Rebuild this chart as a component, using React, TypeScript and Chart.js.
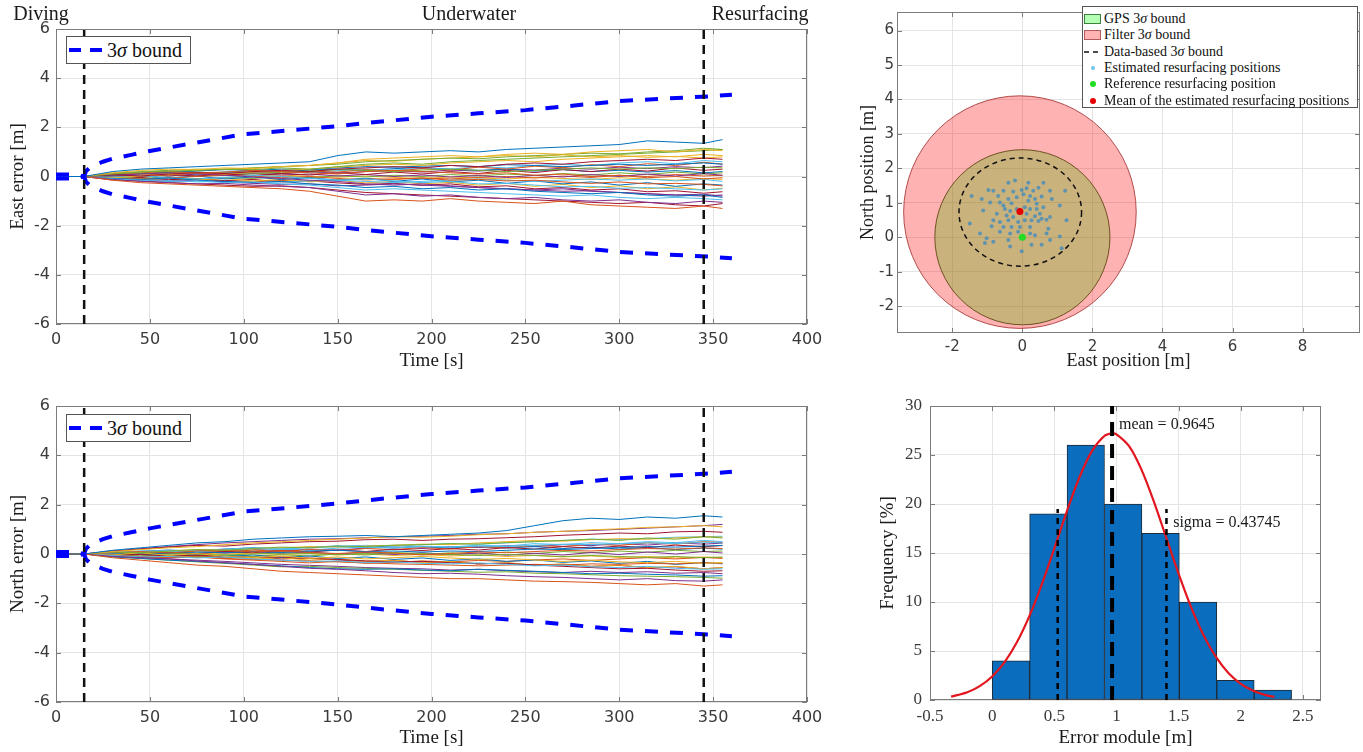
import React, { useEffect, useRef } from 'react';
import { Chart, registerables } from 'chart.js';
Chart.register(...registerables);

const SERIF = '"Liberation Serif", "Times New Roman", serif';
const SANS = '"DejaVu Sans", "Liberation Sans", sans-serif';
const TICK_COLOR = '#3a3a3a';
const GRID_COLOR = '#e4e4e4';
const BOX_COLOR = '#7c7c7c';
const LINE_COLORS = ['#0072BD', '#D95319', '#EDB120', '#7E2F8E', '#77AC30', '#4DBEEE', '#A2142F'];

// ---------- time-series panels ----------
const TIME_TICKS = [0, 50, 100, 150, 200, 250, 300, 350, 400];
const ERROR_TICKS = [-6, -4, -2, 0, 2, 4, 6];
const TIME_S = [0, 15, 30, 45, 60, 75, 90, 105, 120, 135, 150, 165, 180, 195, 210, 225, 240, 255, 270, 285, 300, 315, 330, 345, 355];
const BOUND_TIME = [0, 5, 10, 15, 16, 18, 20, 25, 30, 40, 50, 75, 100, 125, 150, 175, 200, 225, 250, 275, 300, 325, 350, 360];
const BOUND_3SIGMA = [0.08, 0.08, 0.08, 0, 0.22, 0.36, 0.45, 0.6, 0.72, 0.88, 1.04, 1.38, 1.72, 1.88, 2.05, 2.25, 2.43, 2.57, 2.7, 2.88, 3.07, 3.17, 3.27, 3.33];
const PHASE_CHANGE_TIMES = [15, 345];
const PHASE_NAMES = ['Diving', 'Underwater', 'Resurfacing'];
const PHASE_NAME_TIMES = [-8, 220, 375];

const EAST_ERR = [
  [0, 0, 0.2, 0.3, 0.35, 0.4, 0.45, 0.5, 0.55, 0.6, 0.85, 1.0, 0.95, 1.0, 1.05, 1.0, 1.1, 1.15, 1.2, 1.25, 1.3, 1.45, 1.4, 1.35, 1.5],
  [0, 0, -0.15, -0.25, -0.3, -0.35, -0.4, -0.45, -0.5, -0.6, -0.8, -1.0, -0.95, -1.0, -0.9, -1.0, -1.05, -1.1, -1.0, -1.15, -1.2, -1.25, -1.3, -1.2, -1.3],
  [0, 0, 0.15, 0.25, 0.3, 0.28, 0.35, 0.32, 0.4, 0.45, 0.55, 0.7, 0.75, 0.8, 0.85, 0.8, 0.9, 0.95, 0.9, 1.0, 1.05, 1.1, 1.0, 1.1, 1.05],
  [0, 0, -0.12, -0.2, -0.25, -0.3, -0.28, -0.35, -0.4, -0.45, -0.6, -0.75, -0.7, -0.8, -0.75, -0.85, -0.9, -0.85, -0.95, -1.0, -0.95, -1.05, -1.1, -1.0, -1.05],
  [0, 0, 0.1, 0.18, 0.22, 0.25, 0.3, 0.28, 0.35, 0.3, 0.4, 0.5, 0.55, 0.5, 0.6, 0.65, 0.7, 0.75, 0.8, 0.85, 0.9, 0.95, 1.0, 1.05, 1.1],
  [0, 0, -0.1, -0.15, -0.2, -0.18, -0.25, -0.22, -0.3, -0.35, -0.45, -0.55, -0.5, -0.55, -0.6, -0.65, -0.7, -0.75, -0.8, -0.75, -0.85, -0.9, -0.85, -0.9, -0.95],
  [0, 0, 0.08, 0.02, 0.1, 0.15, 0.12, 0.2, 0.25, 0.2, 0.3, 0.35, 0.4, 0.35, 0.45, 0.4, 0.5, 0.55, 0.5, 0.6, 0.65, 0.7, 0.65, 0.75, 0.7],
  [0, 0, -0.08, -0.12, -0.06, -0.15, -0.2, -0.25, -0.2, -0.3, -0.35, -0.45, -0.4, -0.5, -0.45, -0.55, -0.5, -0.6, -0.65, -0.7, -0.65, -0.75, -0.8, -0.75, -0.85],
  [0, 0, 0.1, 0.15, 0.2, 0.15, 0.18, 0.25, 0.2, 0.15, 0.1, 0.2, 0.25, 0.2, 0.15, 0.1, 0.15, 0.05, 0.1, 0, 0.05, -0.05, 0, -0.1, -0.05],
  [0, 0, -0.06, 0.02, 0.08, 0.15, 0.1, 0.18, 0.25, 0.3, 0.38, 0.45, 0.5, 0.45, 0.55, 0.6, 0.65, 0.6, 0.7, 0.75, 0.8, 0.85, 0.8, 0.9, 0.85],
  [0, 0, 0.05, 0.1, 0.15, 0.12, 0.05, -0.02, -0.08, -0.15, -0.2, -0.3, -0.35, -0.3, -0.38, -0.45, -0.5, -0.55, -0.5, -0.6, -0.65, -0.7, -0.75, -0.8, -0.75],
  [0, 0, 0.14, 0.2, 0.25, 0.3, 0.28, 0.35, 0.4, 0.45, 0.5, 0.6, 0.65, 0.7, 0.75, 0.72, 0.8, 0.85, 0.9, 0.95, 0.92, 1.0, 1.05, 1.15, 1.1],
  [0, 0, -0.04, 0.04, -0.06, -0.1, -0.04, 0.05, 0, -0.08, -0.15, -0.1, -0.18, -0.25, -0.2, -0.3, -0.28, -0.35, -0.42, -0.4, -0.48, -0.45, -0.5, -0.55, -0.5],
  [0, 0, -0.14, -0.18, -0.25, -0.3, -0.35, -0.4, -0.38, -0.45, -0.55, -0.65, -0.7, -0.75, -0.8, -0.85, -0.9, -0.95, -1.0, -1.05, -1.1, -1.05, -1.15, -1.2, -1.1],
  [0, 0, 0.06, 0.12, 0.18, 0.22, 0.28, 0.25, 0.3, 0.28, 0.35, 0.4, 0.38, 0.42, 0.45, 0.4, 0.48, 0.45, 0.4, 0.45, 0.5, 0.45, 0.5, 0.55, 0.5],
  [0, 0, -0.05, -0.1, -0.06, 0, 0.05, 0.02, -0.05, 0, -0.08, -0.14, -0.1, -0.06, -0.15, -0.12, -0.18, -0.15, -0.22, -0.28, -0.22, -0.3, -0.28, -0.32, -0.38],
  [0, 0, 0.1, 0.08, 0.15, 0.22, 0.3, 0.35, 0.4, 0.45, 0.55, 0.65, 0.62, 0.7, 0.75, 0.8, 0.85, 0.8, 0.88, 0.8, 0.85, 0.78, 0.82, 0.75, 0.8],
  [0, 0, -0.1, -0.15, -0.2, -0.15, -0.22, -0.28, -0.32, -0.3, -0.38, -0.35, -0.3, -0.35, -0.4, -0.45, -0.5, -0.55, -0.6, -0.58, -0.65, -0.7, -0.75, -0.72, -0.8],
  [0, 0, 0.04, 0.12, 0.1, 0.16, 0.14, 0.1, 0.18, 0.22, 0.28, 0.25, 0.2, 0.26, 0.3, 0.25, 0.2, 0.25, 0.3, 0.35, 0.3, 0.35, 0.32, 0.38, 0.35],
  [0, 0, -0.07, -0.12, -0.16, -0.22, -0.2, -0.25, -0.22, -0.18, -0.15, -0.2, -0.25, -0.2, -0.15, -0.1, -0.15, -0.2, -0.15, -0.1, -0.15, -0.1, -0.18, -0.12, -0.2],
  [0, 0, 0.05, -0.03, 0.08, 0.02, 0.1, 0.04, 0.12, 0.06, 0.15, 0.08, 0.18, 0.1, 0.2, 0.12, 0.25, 0.16, 0.28, 0.2, 0.3, 0.22, 0.35, 0.25, 0.3],
  [0, 0, -0.04, 0.03, -0.06, 0.02, -0.1, -0.02, -0.12, -0.05, -0.15, -0.08, -0.2, -0.1, -0.22, -0.15, -0.28, -0.18, -0.3, -0.22, -0.35, -0.25, -0.4, -0.3, -0.35],
  [0, 0, 0.07, 0.12, 0.06, 0.15, 0.1, 0.2, 0.14, 0.22, 0.18, 0.28, 0.22, 0.32, 0.26, 0.38, 0.3, 0.42, 0.36, 0.48, 0.4, 0.52, 0.45, 0.58, 0.5],
  [0, 0, -0.06, -0.12, -0.05, -0.14, -0.08, -0.18, -0.12, -0.22, -0.15, -0.26, -0.2, -0.3, -0.24, -0.35, -0.28, -0.4, -0.32, -0.45, -0.38, -0.5, -0.42, -0.55, -0.48],
  [0, 0, 0.02, 0.08, 0.02, 0.1, 0.05, 0.12, 0.06, 0.1, 0.02, 0.08, 0, 0.06, -0.02, 0.04, -0.04, 0.05, -0.02, 0.08, 0, 0.1, 0.02, 0.12, 0.05],
  [0, 0, -0.02, -0.08, -0.02, -0.1, -0.04, -0.08, 0, -0.05, 0.03, -0.02, 0.05, 0, 0.08, 0.02, 0.1, 0.04, 0.12, 0.06, 0.15, 0.08, 0.18, 0.1, 0.15],
  [0, 0, 0.09, 0.04, 0.13, 0.08, 0.17, 0.12, 0.2, 0.16, 0.24, 0.3, 0.26, 0.34, 0.3, 0.4, 0.35, 0.45, 0.5, 0.44, 0.55, 0.6, 0.52, 0.65, 0.6],
  [0, 0, -0.09, -0.04, -0.13, -0.08, -0.17, -0.12, -0.22, -0.18, -0.26, -0.32, -0.28, -0.36, -0.3, -0.42, -0.38, -0.5, -0.45, -0.55, -0.5, -0.62, -0.58, -0.68, -0.62],
  [0, 0, 0.04, 0.1, 0.16, 0.12, 0.18, 0.24, 0.2, 0.26, 0.3, 0.25, 0.32, 0.36, 0.3, 0.25, 0.3, 0.22, 0.28, 0.2, 0.25, 0.18, 0.24, 0.15, 0.2],
  [0, 0, -0.05, -0.1, -0.15, -0.1, -0.18, -0.22, -0.16, -0.2, -0.14, -0.08, -0.12, -0.06, -0.1, -0.04, 0, -0.06, 0.02, -0.04, 0.05, 0, 0.08, 0.02, 0.05],
  [0, 0, 0.03, 0.01, 0.05, 0.03, 0.07, 0.02, 0.06, 0.01, -0.03, 0.02, -0.04, -0.08, -0.02, -0.06, -0.1, -0.04, -0.08, -0.12, -0.05, -0.1, -0.15, -0.08, -0.12],
  [0, 0, 0.06, 0.02, 0.08, 0.14, 0.08, 0.16, 0.12, 0.18, 0.14, 0.2, 0.24, 0.18, 0.26, 0.22, 0.3, 0.26, 0.34, 0.3, 0.38, 0.32, 0.4, 0.36, 0.42],
];

const NORTH_ERR = [
  [0, 0, 0.15, 0.25, 0.35, 0.45, 0.5, 0.6, 0.65, 0.7, 0.72, 0.75, 0.7, 0.75, 0.8, 0.85, 0.95, 1.15, 1.35, 1.45, 1.4, 1.5, 1.45, 1.55, 1.5],
  [0, 0, -0.15, -0.25, -0.35, -0.45, -0.5, -0.6, -0.7, -0.75, -0.8, -0.85, -0.9, -0.95, -1.0, -1.0, -1.05, -1.1, -1.12, -1.15, -1.2, -1.25, -1.2, -1.3, -1.25],
  [0, 0, 0.1, 0.18, 0.25, 0.3, 0.38, 0.45, 0.5, 0.55, 0.6, 0.65, 0.7, 0.68, 0.72, 0.78, 0.82, 0.88, 0.92, 0.98, 1.02, 1.08, 1.1, 1.15, 1.1],
  [0, 0, -0.1, -0.15, -0.2, -0.28, -0.35, -0.42, -0.5, -0.58, -0.62, -0.68, -0.75, -0.8, -0.78, -0.82, -0.88, -0.92, -0.95, -1.0, -1.05, -1.0, -1.08, -1.1, -1.05],
  [0, 0, 0.08, 0.05, 0.12, 0.18, 0.15, 0.22, 0.28, 0.25, 0.32, 0.3, 0.36, 0.38, 0.42, 0.4, 0.46, 0.5, 0.55, 0.6, 0.55, 0.65, 0.6, 0.7, 0.65],
  [0, 0, -0.06, -0.12, -0.1, -0.16, -0.12, -0.2, -0.25, -0.3, -0.28, -0.35, -0.32, -0.38, -0.4, -0.36, -0.42, -0.48, -0.45, -0.52, -0.55, -0.5, -0.58, -0.62, -0.6],
  [0, 0, 0.12, 0.2, 0.28, 0.35, 0.32, 0.4, 0.45, 0.5, 0.52, 0.58, 0.6, 0.55, 0.6, 0.62, 0.66, 0.7, 0.76, 0.8, 0.85, 0.82, 0.9, 0.92, 0.88],
  [0, 0, -0.12, -0.18, -0.25, -0.3, -0.36, -0.42, -0.48, -0.55, -0.6, -0.62, -0.6, -0.65, -0.68, -0.62, -0.66, -0.7, -0.75, -0.8, -0.78, -0.82, -0.85, -0.9, -0.88],
  [0, 0, 0.05, 0.1, 0.04, 0.12, 0.16, 0.08, 0.14, 0.06, 0.02, 0.08, 0.04, -0.04, 0.02, 0.08, 0.05, 0.1, 0.15, 0.12, 0.18, 0.22, 0.2, 0.25, 0.22],
  [0, 0, -0.04, 0.05, -0.06, 0.02, -0.1, -0.15, -0.08, -0.18, -0.12, -0.2, -0.15, -0.1, -0.16, -0.22, -0.18, -0.24, -0.3, -0.25, -0.32, -0.35, -0.3, -0.38, -0.35],
  [0, 0, 0.12, 0.22, 0.3, 0.38, 0.45, 0.5, 0.55, 0.6, 0.62, 0.66, 0.7, 0.72, 0.75, 0.8, 0.82, 0.88, 0.92, 0.95, 1.0, 1.05, 1.1, 1.15, 1.2],
  [0, 0, -0.1, -0.18, -0.25, -0.32, -0.38, -0.45, -0.52, -0.5, -0.55, -0.58, -0.62, -0.66, -0.7, -0.74, -0.72, -0.78, -0.8, -0.84, -0.88, -0.9, -0.92, -0.95, -0.98],
  [0, 0, 0.04, 0.1, 0.14, 0.1, 0.16, 0.22, 0.2, 0.26, 0.3, 0.28, 0.25, 0.3, 0.28, 0.32, 0.3, 0.35, 0.4, 0.38, 0.42, 0.45, 0.42, 0.48, 0.45],
  [0, 0, -0.04, -0.02, -0.08, -0.05, -0.1, -0.15, -0.12, -0.18, -0.22, -0.28, -0.32, -0.3, -0.35, -0.4, -0.38, -0.45, -0.5, -0.55, -0.6, -0.58, -0.65, -0.7, -0.68],
  [0, 0, 0.02, -0.02, 0.04, 0.08, 0.05, 0.1, 0.06, 0.12, 0.15, 0.1, 0.12, 0.08, 0.12, 0.1, 0.15, 0.2, 0.18, 0.22, 0.26, 0.3, 0.28, 0.32, 0.35],
  [0, 0, -0.06, -0.1, -0.15, -0.12, -0.18, -0.22, -0.25, -0.28, -0.32, -0.35, -0.4, -0.42, -0.45, -0.48, -0.45, -0.42, -0.45, -0.4, -0.42, -0.38, -0.4, -0.35, -0.38],
  [0, 0, 0.06, 0.1, 0.12, 0.18, 0.15, 0.2, 0.25, 0.3, 0.28, 0.32, 0.35, 0.4, 0.38, 0.45, 0.5, 0.55, 0.52, 0.58, 0.62, 0.6, 0.65, 0.7, 0.68],
  [0, 0, -0.1, -0.14, -0.2, -0.25, -0.3, -0.36, -0.42, -0.46, -0.5, -0.55, -0.58, -0.6, -0.65, -0.62, -0.68, -0.72, -0.75, -0.7, -0.75, -0.72, -0.78, -0.75, -0.8],
  [0, 0, 0.02, 0.05, 0.02, 0, -0.04, 0, 0.04, 0.02, -0.02, 0.02, 0.06, 0.02, -0.02, -0.06, -0.02, -0.06, -0.1, -0.06, -0.1, -0.14, -0.1, -0.15, -0.12],
  [0, 0, 0.08, 0.12, 0.1, 0.15, 0.2, 0.25, 0.22, 0.28, 0.32, 0.35, 0.32, 0.38, 0.42, 0.4, 0.45, 0.5, 0.55, 0.6, 0.58, 0.62, 0.68, 0.7, 0.72],
  [0, 0, 0.04, -0.02, 0.07, 0.01, 0.1, 0.05, 0.14, 0.08, 0.16, 0.1, 0.2, 0.14, 0.22, 0.16, 0.26, 0.2, 0.3, 0.24, 0.32, 0.26, 0.36, 0.3, 0.34],
  [0, 0, -0.05, 0.02, -0.07, 0, -0.1, -0.04, -0.14, -0.08, -0.18, -0.12, -0.22, -0.16, -0.26, -0.2, -0.3, -0.24, -0.34, -0.28, -0.38, -0.3, -0.42, -0.35, -0.4],
  [0, 0, 0.06, 0.1, 0.05, 0.12, 0.08, 0.16, 0.1, 0.18, 0.14, 0.22, 0.18, 0.26, 0.2, 0.3, 0.25, 0.35, 0.3, 0.4, 0.35, 0.45, 0.4, 0.5, 0.46],
  [0, 0, -0.07, -0.12, -0.06, -0.15, -0.1, -0.2, -0.15, -0.25, -0.2, -0.3, -0.25, -0.35, -0.3, -0.4, -0.35, -0.45, -0.4, -0.5, -0.45, -0.55, -0.5, -0.6, -0.55],
  [0, 0, 0.03, 0.08, 0.03, 0.1, 0.04, 0.1, 0.03, 0.08, 0, 0.06, -0.02, 0.05, -0.03, 0.04, -0.05, 0.03, -0.04, 0.06, -0.02, 0.08, 0, 0.1, 0.04],
  [0, 0, -0.03, -0.08, -0.03, -0.1, -0.05, -0.1, -0.03, -0.08, 0, -0.04, 0.03, -0.02, 0.05, 0, 0.08, 0.02, 0.1, 0.05, 0.12, 0.07, 0.15, 0.1, 0.12],
  [0, 0, 0.08, 0.03, 0.12, 0.07, 0.16, 0.11, 0.2, 0.15, 0.24, 0.28, 0.24, 0.32, 0.28, 0.36, 0.32, 0.42, 0.38, 0.46, 0.42, 0.5, 0.46, 0.55, 0.5],
  [0, 0, -0.08, -0.03, -0.12, -0.07, -0.16, -0.11, -0.2, -0.16, -0.24, -0.3, -0.26, -0.34, -0.3, -0.4, -0.36, -0.46, -0.42, -0.5, -0.46, -0.56, -0.52, -0.6, -0.55],
  [0, 0, 0.05, 0.11, 0.16, 0.12, 0.2, 0.25, 0.2, 0.28, 0.32, 0.26, 0.34, 0.3, 0.25, 0.3, 0.24, 0.3, 0.22, 0.28, 0.2, 0.26, 0.18, 0.24, 0.2],
  [0, 0, -0.06, -0.11, -0.16, -0.12, -0.2, -0.25, -0.3, -0.36, -0.3, -0.38, -0.34, -0.28, -0.32, -0.26, -0.3, -0.24, -0.2, -0.26, -0.2, -0.15, -0.2, -0.14, -0.18],
  [0, 0, 0.02, 0.05, 0.01, 0.04, 0, 0.03, -0.02, 0.02, -0.04, 0, -0.06, -0.02, -0.08, -0.04, -0.1, -0.06, -0.12, -0.08, -0.14, -0.1, -0.16, -0.12, -0.15],
  [0, 0, 0.07, 0.03, 0.1, 0.15, 0.1, 0.18, 0.14, 0.2, 0.16, 0.24, 0.28, 0.22, 0.3, 0.26, 0.34, 0.3, 0.38, 0.34, 0.42, 0.36, 0.45, 0.4, 0.44],
];

// ---------- resurfacing positions panel ----------
const EAST_POS_TICKS = [-2, 0, 2, 4, 6, 8];
const NORTH_POS_TICKS = [-2, -1, 0, 1, 2, 3, 4, 5, 6];
const GPS_CENTER = [0, 0];
const GPS_RADIUS = 2.5;
const FILTER_CENTER = [-0.07, 0.73];
const FILTER_RADIUS = 3.32;
const DATA_ELLIPSE_CENTER = [-0.06, 0.73];
const DATA_ELLIPSE_RADII = [1.75, 1.57];
const REF_POSITION = [0, 0];
const MEAN_POSITION = [-0.07, 0.75];
const EST_EAST = [-0.21, -0.4, 0.17, 0.6, -0.83, -0.97, -0.54, -0.26, -0.02, 0.12, 0.31, 0.46, 0.79, 1.22, -1.45, -1.16, -0.69, -0.4, -0.16, 0.03, 0.22, 0.36, 0.55, 0.84, -0.92, -0.64, -0.31, 0.17, 0.41, 1.07, -1.12, -0.5, -0.35, 0.22, 0.41, 0.6, -0.45, -0.26, 0.12, 0.36, 0.55, 0.79, -0.83, -0.64, -0.4, -0.12, 0.07, 0.26, 0.46, 0.69, -0.88, -0.54, -0.31, -0.07, 0.22, 0.74, -1.21, -0.64, -0.35, 0.22, -0.12, 0.36, -1.02, -0.4, 0.03, 0.79, 0.26, -0.83, 1.07, -0.35, -0.02, 0.55, -1.07, 1.12, -0.16, 0.07, -0.73, -0.54, 0.5, 0.69, -1.5, 1.26];
const EST_NORTH = [1.65, 1.58, 1.58, 1.58, 1.35, 1.37, 1.35, 1.33, 1.37, 1.42, 1.35, 1.44, 1.35, 1.35, 1.2, 1.11, 1.2, 1.11, 1.16, 1.25, 1.2, 1.11, 1.18, 1.11, 1.01, 1.01, 0.99, 1.06, 0.97, 0.92, 0.78, 0.82, 0.76, 0.82, 0.82, 0.87, 0.63, 0.59, 0.68, 0.61, 0.54, 0.59, 0.49, 0.44, 0.49, 0.44, 0.49, 0.49, 0.47, 0.51, 0.32, 0.3, 0.3, 0.3, 0.3, 0.25, 0.11, 0.16, 0.11, 0.11, 0.16, 0.06, -0.03, -0.08, -0.03, -0.08, -0.22, -0.13, 0.02, -0.27, -0.41, -0.22, -0.17, -0.32, 0.82, 0.87, 0.68, 0.92, 0.68, 0.11, 0.4, 0.49];

// ---------- histogram panel ----------
const ERROR_BIN_CENTERS = [0.151, 0.452, 0.753, 1.054, 1.355, 1.656, 1.957, 2.258];
const ERROR_FREQUENCY = [4, 19, 26, 20, 17, 10, 2, 1];
const FIT_X = [-0.33, -0.2, -0.1, 0, 0.1, 0.2, 0.3, 0.4, 0.5, 0.6, 0.7, 0.8, 0.9, 0.9645, 1.0, 1.1, 1.2, 1.3, 1.4, 1.5, 1.6, 1.7, 1.8, 1.9, 2.0, 2.1, 2.2, 2.27];
const FIT_Y = [0.34, 0.79, 1.41, 2.39, 3.86, 5.91, 8.58, 11.83, 15.48, 19.22, 22.66, 25.34, 26.91, 27.2, 27.11, 25.92, 23.53, 20.27, 16.57, 12.86, 9.47, 6.62, 4.39, 2.76, 1.65, 0.94, 0.5, 0.32];
const ERROR_MEAN = 0.9645;
const ERROR_SIGMA = 0.43745;
const SIGMA_LINE_TOP = 19.5;
const HIST_X_TICKS = [-0.5, 0, 0.5, 1, 1.5, 2, 2.5];
const FREQ_TICKS = [0, 5, 10, 15, 20, 25, 30];
const HIST_TEXT_POS = { mean: [1.02, 28.06], sigma: [1.456, 18.06] };

// ---------- helpers ----------
const setTicks = (vals: number[]) => (s: any) => { s.ticks = vals.map((v) => ({ value: v })); };

const framePlugin = {
  id: 'frame',
  beforeDatasetsDraw(chart: any) {
    const { ctx, chartArea: a, scales } = chart;
    ctx.save();
    ctx.strokeStyle = BOX_COLOR;
    ctx.lineWidth = 1;
    ctx.strokeRect(Math.round(a.left) + 0.5, Math.round(a.top) + 0.5, Math.round(a.right - a.left) - 1, Math.round(a.bottom - a.top) - 1);
    const L = 5;
    ctx.beginPath();
    for (const t of scales.x.ticks) {
      const p = Math.round(scales.x.getPixelForValue(t.value)) + 0.5;
      ctx.moveTo(p, a.bottom); ctx.lineTo(p, a.bottom - L);
      ctx.moveTo(p, a.top); ctx.lineTo(p, a.top + L);
    }
    for (const t of scales.y.ticks) {
      const p = Math.round(scales.y.getPixelForValue(t.value)) + 0.5;
      ctx.moveTo(a.left, p); ctx.lineTo(a.left + L, p);
      ctx.moveTo(a.right, p); ctx.lineTo(a.right - L, p);
    }
    ctx.stroke();
    ctx.restore();
  },
};

const phasePlugin = {
  id: 'phases',
  afterDraw(chart: any) {
    const { ctx, scales } = chart;
    ctx.save();
    ctx.font = `20px ${SERIF}`;
    ctx.fillStyle = '#1a1a1a';
    ctx.textAlign = 'center';
    ctx.textBaseline = 'alphabetic';
    PHASE_NAMES.forEach((n, i) => ctx.fillText(n, scales.x.getPixelForValue(PHASE_NAME_TIMES[i]), 20));
    ctx.restore();
  },
};

const axisCommon = (tickFont: any, padding: number) => ({
  type: 'linear' as const,
  grid: { color: GRID_COLOR, drawTicks: false, lineWidth: 1 },
  border: { display: false },
  ticks: { padding, color: TICK_COLOR, font: tickFont, autoSkip: false, maxRotation: 0, callback: (v: any) => String(v) },
});

function timeConfig(series: number[][], yTitle: string, padTop: number, xAxisH: number, xTitlePadBottom: number, phases: boolean) {
  const datasets: any[] = [];
  PHASE_CHANGE_TIMES.forEach((t) =>
    datasets.push({
      data: [{ x: t, y: ERROR_TICKS[0] }, { x: t, y: ERROR_TICKS[ERROR_TICKS.length - 1] }],
      borderColor: '#111', borderWidth: 2.5, borderDash: [9, 6], pointRadius: 0, order: 0,
    })
  );
  [1, -1].forEach((sgn) =>
    datasets.push({
      data: BOUND_TIME.map((t, i) => ({ x: t, y: sgn * BOUND_3SIGMA[i] })),
      borderColor: '#0000ff', borderWidth: 4, borderDash: [13, 12], pointRadius: 0, order: 1,
    })
  );
  series.forEach((s, k) =>
    datasets.push({
      data: TIME_S.slice(0, s.length).map((t, i) => ({ x: t, y: s[i] })),
      borderColor: LINE_COLORS[k % LINE_COLORS.length], borderWidth: 1, pointRadius: 0, order: 2,
    })
  );
  return {
    type: 'line' as const,
    data: { datasets },
    plugins: phases ? [framePlugin, phasePlugin] : [framePlugin],
    options: {
      animation: false as const,
      responsive: false,
      events: [],
      layout: { padding: { left: 0, top: padTop, right: 23, bottom: 0 }, autoPadding: false },
      plugins: { legend: { display: false }, tooltip: { enabled: false } },
      scales: {
        x: {
          ...axisCommon({ family: SANS, size: 16 }, 6),
          min: TIME_TICKS[0], max: TIME_TICKS[TIME_TICKS.length - 1],
          afterBuildTicks: setTicks(TIME_TICKS),
          afterFit: (s: any) => { s.height = xAxisH; },
          title: { display: true, text: 'Time [s]', color: '#1a1a1a', font: { family: SERIF, size: 19 }, padding: { top: 0, bottom: xTitlePadBottom } },
        },
        y: {
          ...axisCommon({ family: SANS, size: 16 }, 6),
          min: ERROR_TICKS[0], max: ERROR_TICKS[ERROR_TICKS.length - 1],
          afterBuildTicks: setTicks(ERROR_TICKS),
          afterFit: (s: any) => { s.width = 56; },
          title: { display: true, text: yTitle, color: '#1a1a1a', font: { family: SERIF, size: 19 }, padding: { top: 6.6, bottom: 0 } },
        },
      },
    },
  };
}

const ellipsePlugin = {
  id: 'dataEllipse',
  afterDatasetDraw(chart: any, args: any) {
    if (args.meta.label !== 'Filter 3σ bound') return;
    const { ctx, scales: { x, y } } = chart;
    const cx = x.getPixelForValue(DATA_ELLIPSE_CENTER[0]);
    const cy = y.getPixelForValue(DATA_ELLIPSE_CENTER[1]);
    const rx = Math.abs(x.getPixelForValue(DATA_ELLIPSE_CENTER[0] + DATA_ELLIPSE_RADII[0]) - cx);
    const ry = Math.abs(y.getPixelForValue(DATA_ELLIPSE_CENTER[1] + DATA_ELLIPSE_RADII[1]) - cy);
    ctx.save();
    ctx.strokeStyle = '#111';
    ctx.lineWidth = 1.5;
    ctx.setLineDash([5, 4]);
    ctx.beginPath();
    ctx.ellipse(cx, cy, rx, ry, 0, 0, Math.PI * 2);
    ctx.stroke();
    ctx.restore();
  },
};

function positionConfig() {
  return {
    type: 'scatter' as const,
    data: {
      datasets: [
        { type: 'scatter', label: 'Mean', data: [{ x: MEAN_POSITION[0], y: MEAN_POSITION[1] }], pointRadius: 3.5, backgroundColor: '#e60000', borderWidth: 0, order: 0 },
        { type: 'scatter', label: 'Reference', data: [{ x: REF_POSITION[0], y: REF_POSITION[1] }], pointRadius: 3.5, backgroundColor: '#22dd22', borderWidth: 0, order: 1 },
        { type: 'scatter', label: 'Estimated', data: EST_EAST.map((e, i) => ({ x: e, y: EST_NORTH[i] })), pointRadius: 2, backgroundColor: 'rgba(70,140,185,0.8)', borderWidth: 0, order: 2 },
        { type: 'bubble', label: 'Filter 3σ bound', circleRadius: FILTER_RADIUS, data: [{ x: FILTER_CENTER[0], y: FILTER_CENTER[1], r: 1 }], hoverRadius: 0, backgroundColor: 'rgba(255,0,0,0.3)', borderColor: 'rgba(170,60,60,0.9)', borderWidth: 1, order: 3 },
        { type: 'bubble', label: 'GPS 3σ bound', circleRadius: GPS_RADIUS, data: [{ x: GPS_CENTER[0], y: GPS_CENTER[1], r: 1 }], hoverRadius: 0, backgroundColor: 'rgba(0,255,0,0.3)', borderColor: 'rgba(30,100,30,0.9)', borderWidth: 1, order: 4 },
      ],
    },
    plugins: [framePlugin, ellipsePlugin],
    options: {
      animation: false as const,
      responsive: false,
      events: [],
      layout: { padding: { left: 0, top: 6, right: 3, bottom: 0 }, autoPadding: false },
      plugins: { legend: { display: false }, tooltip: { enabled: false } },
      scales: {
        x: {
          ...axisCommon({ family: SANS, size: 15 }, 5),
          min: -3.58, max: 9.64,
          afterBuildTicks: setTicks(EAST_POS_TICKS),
          afterFit: (s: any) => { s.height = 47; },
          title: { display: true, text: 'East position [m]', color: '#1a1a1a', font: { family: SERIF, size: 18 }, padding: { top: 0, bottom: 7.5 } },
        },
        y: {
          ...axisCommon({ family: SANS, size: 15 }, 3),
          min: -2.78, max: 6.54,
          afterBuildTicks: setTicks(NORTH_POS_TICKS),
          afterFit: (s: any) => { s.width = 47; },
          title: { display: true, text: 'North position [m]', color: '#1a1a1a', font: { family: SERIF, size: 18 }, padding: { top: 7.2, bottom: 0 } },
        },
      },
    },
  };
}

// converts each circle's radius (in metres) to the bubble radius (pixels) through the x scale
function sizeCircles(chart: any) {
  const sx = chart.scales.x;
  chart.data.datasets.forEach((ds: any) => {
    if (ds.circleRadius === undefined) return;
    ds.data = ds.data.map((p: any) => ({ ...p, r: Math.abs(sx.getPixelForValue(p.x + ds.circleRadius) - sx.getPixelForValue(p.x)) }));
  });
  chart.update();
}

const histTextPlugin = {
  id: 'histText',
  afterDatasetsDraw(chart: any) {
    const { ctx, scales: { x, y } } = chart;
    ctx.save();
    ctx.font = `16px ${SERIF}`;
    ctx.fillStyle = '#1a1a1a';
    ctx.textAlign = 'left';
    ctx.textBaseline = 'middle';
    ctx.fillText(`mean = ${ERROR_MEAN}`, x.getPixelForValue(HIST_TEXT_POS.mean[0]), y.getPixelForValue(HIST_TEXT_POS.mean[1]));
    ctx.fillText(`sigma = ${ERROR_SIGMA}`, x.getPixelForValue(HIST_TEXT_POS.sigma[0]), y.getPixelForValue(HIST_TEXT_POS.sigma[1]));
    ctx.restore();
  },
};

function histConfig() {
  const top = FREQ_TICKS[FREQ_TICKS.length - 1];
  return {
    type: 'bar' as const,
    data: {
      datasets: [
        { type: 'line', data: [{ x: ERROR_MEAN, y: 0 }, { x: ERROR_MEAN, y: top }], borderColor: '#000', borderWidth: 4, borderDash: [14, 8], pointRadius: 0, order: 0 },
        { type: 'line', data: [{ x: ERROR_MEAN - ERROR_SIGMA, y: 0 }, { x: ERROR_MEAN - ERROR_SIGMA, y: SIGMA_LINE_TOP }], borderColor: '#000', borderWidth: 2.5, borderDash: [6, 5], pointRadius: 0, order: 0 },
        { type: 'line', data: [{ x: ERROR_MEAN + ERROR_SIGMA, y: 0 }, { x: ERROR_MEAN + ERROR_SIGMA, y: SIGMA_LINE_TOP }], borderColor: '#000', borderWidth: 2.5, borderDash: [6, 5], pointRadius: 0, order: 0 },
        { type: 'line', data: FIT_X.map((v, i) => ({ x: v, y: FIT_Y[i] })), borderColor: '#e3161f', borderWidth: 2.2, pointRadius: 0, tension: 0.3, order: 1 },
        { type: 'bar', data: ERROR_BIN_CENTERS.map((c, i) => ({ x: c, y: ERROR_FREQUENCY[i] })), backgroundColor: '#0a6dbd', borderColor: '#1e2a36', borderWidth: 1, borderSkipped: false, barPercentage: 1, categoryPercentage: 1, order: 2 },
      ],
    },
    plugins: [framePlugin, histTextPlugin],
    options: {
      animation: false as const,
      responsive: false,
      events: [],
      layout: { padding: { left: 0, top: 26, right: 42, bottom: 0 }, autoPadding: false },
      plugins: { legend: { display: false }, tooltip: { enabled: false } },
      scales: {
        x: {
          ...axisCommon({ family: SERIF, size: 17 }, 6),
          offset: false,
          grid: { color: GRID_COLOR, drawTicks: false, offset: false },
          min: -0.5, max: 2.645,
          afterBuildTicks: setTicks(HIST_X_TICKS),
          afterFit: (s: any) => { s.height = 52; },
          title: { display: true, text: 'Error module [m]', color: '#1a1a1a', font: { family: SERIF, size: 19 }, padding: { top: 0, bottom: 2.6 } },
        },
        y: {
          ...axisCommon({ family: SERIF, size: 17 }, 8),
          min: FREQ_TICKS[0], max: top,
          afterBuildTicks: setTicks(FREQ_TICKS),
          afterFit: (s: any) => { s.width = 80; },
          title: { display: true, text: 'Frequency [%]', color: '#1a1a1a', font: { family: SERIF, size: 19 }, padding: { top: 26.6, bottom: 0 } },
        },
      },
    },
  };
}

const BoundLegend = ({ top }: { top: number }) => (
  <div style={{ position: 'absolute', left: 66, top, width: 125, height: 28, border: '1px solid #555', background: '#fff', boxSizing: 'border-box', display: 'flex', alignItems: 'center', fontFamily: SERIF, fontSize: 20, color: '#111', whiteSpace: 'nowrap' }}>
    <svg width={35} height={8} style={{ marginLeft: 2, marginRight: 3 }}>
      <line x1={0} y1={4} x2={35} y2={4} stroke="#0000ff" strokeWidth={4} strokeDasharray="12 9" />
    </svg>
    <span>3<i>σ</i> bound</span>
  </div>
);

const PosLegendRow = ({ i, icon, children }: { i: number; icon: React.ReactNode; children: React.ReactNode }) => (
  <div style={{ position: 'absolute', left: 0, top: 4 + i * 16.3, height: 16, width: 273, display: 'flex', alignItems: 'center' }}>
    <div style={{ width: 19, height: 16, position: 'relative', display: 'flex', alignItems: 'center', justifyContent: 'center' }}>{icon}</div>
    <span style={{ marginLeft: 2 }}>{children}</span>
  </div>
);

const dot = (color: string, size: number) => <div style={{ width: size, height: size, borderRadius: '50%', background: color }} />;

const PosLegend = () => (
  <div style={{ position: 'absolute', left: 1082, top: 6, width: 276, height: 102, border: '1px solid #555', background: '#fff', boxSizing: 'border-box', fontFamily: SERIF, fontSize: 14, color: '#111', whiteSpace: 'nowrap' }}>
    <PosLegendRow i={0} icon={<div style={{ width: 17, height: 10, background: 'rgb(179,255,179)', border: '1px solid rgb(60,130,60)', boxSizing: 'border-box' }} />}>GPS 3<i>σ</i> bound</PosLegendRow>
    <PosLegendRow i={1} icon={<div style={{ width: 17, height: 10, background: 'rgb(255,179,179)', border: '1px solid rgb(180,90,90)', boxSizing: 'border-box' }} />}>Filter 3<i>σ</i> bound</PosLegendRow>
    <PosLegendRow i={2} icon={<svg width={17} height={4}><line x1={0} y1={2} x2={17} y2={2} stroke="#111" strokeWidth={1.5} strokeDasharray="5 4" /></svg>}>Data-based 3<i>σ</i> bound</PosLegendRow>
    <PosLegendRow i={3} icon={dot('#6fc4ea', 4)}>Estimated resurfacing positions</PosLegendRow>
    <PosLegendRow i={4} icon={dot('#22dd22', 6)}>Reference resurfacing position</PosLegendRow>
    <PosLegendRow i={5} icon={dot('#e60000', 6)}>Mean of the estimated resurfacing positions</PosLegendRow>
  </div>
);

export default function App() {
  const aRef = useRef<HTMLCanvasElement>(null);
  const bRef = useRef<HTMLCanvasElement>(null);
  const cRef = useRef<HTMLCanvasElement>(null);
  const dRef = useRef<HTMLCanvasElement>(null);

  useEffect(() => {
    const posChart = new Chart(cRef.current as HTMLCanvasElement, positionConfig() as any);
    sizeCircles(posChart);
    const charts = [
      new Chart(aRef.current as HTMLCanvasElement, timeConfig(EAST_ERR, 'East error [m]', 29, 56, 7.6, true) as any),
      new Chart(bRef.current as HTMLCanvasElement, timeConfig(NORTH_ERR, 'North error [m]', 26, 50, 2.6, false) as any),
      posChart,
      new Chart(dRef.current as HTMLCanvasElement, histConfig() as any),
    ];
    return () => charts.forEach((c) => c.destroy());
  }, []);

  const cv = (left: number, top: number, w: number, h: number): React.CSSProperties => ({ position: 'absolute', left, top, width: w, height: h });

  return (
    <div style={{ position: 'absolute', left: 0, top: 0, width: 1363, height: 752, background: '#fff', overflow: 'hidden' }}>
      <canvas ref={aRef} width={830} height={380} style={cv(0, 0, 830, 380)} />
      <canvas ref={bRef} width={830} height={372} style={cv(0, 380, 830, 372)} />
      <canvas ref={cRef} width={513} height={380} style={cv(850, 0, 513, 380)} />
      <canvas ref={dRef} width={513} height={372} style={cv(850, 380, 513, 372)} />
      <BoundLegend top={36} />
      <BoundLegend top={414} />
      <PosLegend />
    </div>
  );
}
